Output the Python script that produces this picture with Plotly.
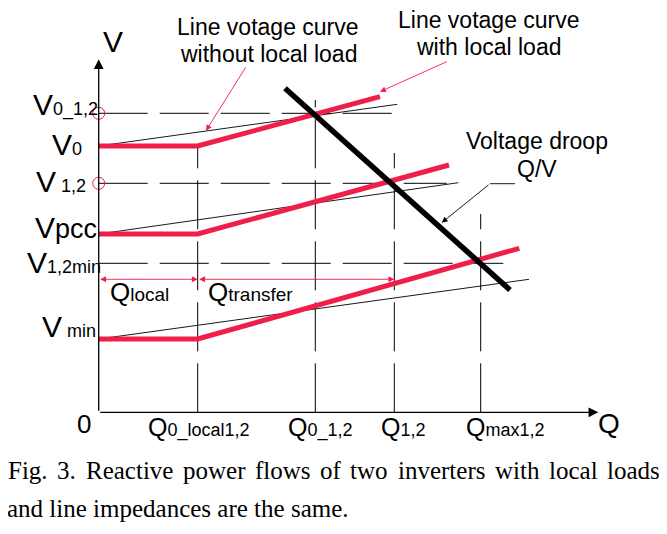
import plotly.graph_objects as go

# ---------------- data (Q: reactive power, V: voltage, arbitrary units) -------------
Q0_LOCAL = 0.99
Q0_12 = 2.166
Q12 = 2.956
QMAX12 = 3.82

V0_12 = 2.99
V0 = 2.663
V12 = 2.29
VPCC = 1.783
V12MIN = 1.49
VMIN = 0.733

# red curves: line voltage with local load (flat until Q0_local then rising)
red_top_q = [0, Q0_LOCAL, 2.813]
red_top_v = [V0, V0, 3.156]
red_mid_q = [0, Q0_LOCAL, 3.503]
red_mid_v = [VPCC, VPCC, 2.473]
red_bot_q = [0, Q0_LOCAL, 4.206]
red_bot_v = [VMIN, VMIN, 1.64]

# thin black curves: line voltage without local load
thin_top_q = [0, 2.986]
thin_top_v = [V0, 3.08]
thin_mid_q = [0, 3.596]
thin_mid_v = [VPCC, 2.296]
thin_bot_q = [0, 4.303]
thin_bot_v = [VMIN, 1.33]

# voltage droop Q/V line
droop_q = [1.863, 4.113]
droop_v = [3.24, 1.223]

# dashed guide lines
h_levels = [V0_12, V12, V12MIN]
h_ends = [2.99, 3.48, 4.046]
v_positions = [Q0_LOCAL, Q0_12, Q12, QMAX12]
v_tops = [V0, 3.123, 2.593, 1.983]

# open circles on V axis
circle_v = [V0_12, V12]

# axis extents
Q_AXIS_END = 4.996
V_AXIS_END = 3.53

# Q-range arrows (level)
Q_ARROW_V = 1.33

# caption
CAPTION_1_WORDS = ["Fig.", "3.", "Reactive", "power", "flows", "of", "two",
                   "inverters", "with", "local", "loads"]
CAPTION_1_CENTER = [-0.709, -0.321, 0.307, 1.1535, 1.84, 2.3185, 2.7065,
                    3.428, 4.184, 4.746, 5.3495]
CAPTION_2 = "and line impedances are the same."

RED = "#EF1F4A"
SANS = "Liberation Sans, Arial, sans-serif"
SERIF = "Liberation Serif, Times New Roman, serif"
DASH = "49px,12px"

fig = go.Figure()

def line(q, v, color="black", width=1, dash="solid"):
    fig.add_trace(go.Scatter(x=q, y=v, mode="lines", hoverinfo="skip",
                             showlegend=False,
                             line=dict(color=color, width=width, dash=dash)))

# dashed horizontals
for lv, end in zip(h_levels, h_ends):
    line([0, end], [lv, lv], width=1, dash=DASH)
# dashed verticals
for qp, top in zip(v_positions, v_tops):
    line([qp, qp], [0, top], width=1, dash=DASH)

# thin curves
for q, v in [(thin_top_q, thin_top_v), (thin_mid_q, thin_mid_v), (thin_bot_q, thin_bot_v)]:
    line(q, v, width=0.9)
# red curves
for q, v in [(red_top_q, red_top_v), (red_mid_q, red_mid_v), (red_bot_q, red_bot_v)]:
    line(q, v, color=RED, width=5)
# droop
line(droop_q, droop_v, width=5.5)

# leader line of droop label
line([4.163, 3.913], [2.286, 2.286], width=0.9)

# circles
fig.add_trace(go.Scatter(x=[0] * len(circle_v), y=circle_v, mode="markers",
                         hoverinfo="skip", showlegend=False,
                         marker=dict(symbol="circle-open", size=12, color=RED,
                                     line=dict(width=1, color=RED))))

ann = []

def arrow(x, y, ax, ay, color="black", width=1, head=2, size=1, both=False):
    d = dict(x=x, y=y, ax=ax, ay=ay, xref="x", yref="y", axref="x", ayref="y",
             showarrow=True, arrowhead=head, arrowsize=size, arrowwidth=width,
             arrowcolor=color, text="", standoff=0, startstandoff=0)
    if both:
        d.update(arrowside="end+start", startarrowhead=head, startarrowsize=size)
    ann.append(d)

# axes
arrow(0, V_AXIS_END, 0, 0, width=1.3, size=1.5)
arrow(Q_AXIS_END, 0, 0, 0, width=1.3, size=1.5)
# pointer arrows
arrow(1.073, 2.816, 1.48, 3.466, color=RED, width=0.9, size=1.3)
arrow(2.813, 3.206, 3.496, 3.513, color=RED, width=0.9, size=1.3)
arrow(3.43, 1.896, 3.913, 2.286, color="black", width=0.9, size=1.3)
# Q ranges
arrow(Q0_LOCAL, Q_ARROW_V, 0, Q_ARROW_V, color=RED, width=0.9, size=1.3, both=True)
arrow(Q12, Q_ARROW_V, Q0_LOCAL, Q_ARROW_V, color=RED, width=0.9, size=1.3, both=True)

def text(x, y, t, size, xanchor="center", family=SANS):
    ann.append(dict(x=x, y=y, xref="x", yref="y", text=t, showarrow=False,
                    xanchor=xanchor, yanchor="middle", borderpad=0, borderwidth=0,
                    font=dict(family=family, size=size, color="black")))

def sub(s, size):
    return '<span style="font-size:%dpx">%s</span>' % (size, s)

# labels on V axis
y_labels = [
    ("V" + sub("0_1,2", 18), -0.007, 3.078),
    ("V" + sub("0", 18), -0.17, 2.678),
    ("V" + sub(" 1,2", 18), -0.13, 2.311),
    ("V" + sub("pcc", 27), -0.017, 1.845),
    ("V" + sub("1,2min", 18), 0.02, 1.495),
    ("V" + sub(" min", 18), -0.027, 0.861),
]
for t, x, y in y_labels:
    text(x, y, t, 30, xanchor="right")

# labels on Q axis
x_labels = [
    ("Q" + sub("0_local1,2", 18), 1.003),
    ("Q" + sub("0_1,2", 18), 2.218),
    ("Q" + sub("1,2", 18), 3.043),
    ("Q" + sub("max1,2", 18), 4.063),
]
for t, x in x_labels:
    text(x, -0.15, t, 25)

text(5.103, -0.109, "Q", 28)
text(-0.147, -0.117, "0", 26)
text(0.138, 3.708, "V", 30)

text(0.408, 1.203, "Q" + sub("local", 19), 26)
text(1.518, 1.203, "Q" + sub("transfer", 19), 26)

text(1.693, 3.853, "Line votage curve", 23)
text(1.693, 3.586, "without local load", 23)
text(3.9, 3.926, "Line votage curve", 23)
text(3.9, 3.653, "with local load", 23)
text(4.383, 2.713, "Voltage droop", 23)
text(4.383, 2.436, "Q/V", 23)

# caption (first line justified word by word)
for w, x in zip(CAPTION_1_WORDS, CAPTION_1_CENTER):
    text(x, -0.585, w, 25, family=SERIF)
text(0.796, -0.962, CAPTION_2, 25, family=SERIF)

# page body has an 8px margin: shrink figure and shift ranges to compensate
fig.update_layout(
    width=659, height=526,
    margin=dict(l=0, r=0, t=0, b=0),
    paper_bgcolor="white", plot_bgcolor="white",
    xaxis=dict(range=[-0.907, 5.683], visible=False, fixedrange=True),
    yaxis=dict(range=[-1.217, 4.043], visible=False, fixedrange=True),
    annotations=ann,
    showlegend=False,
)

fig.write_html("out.html")
